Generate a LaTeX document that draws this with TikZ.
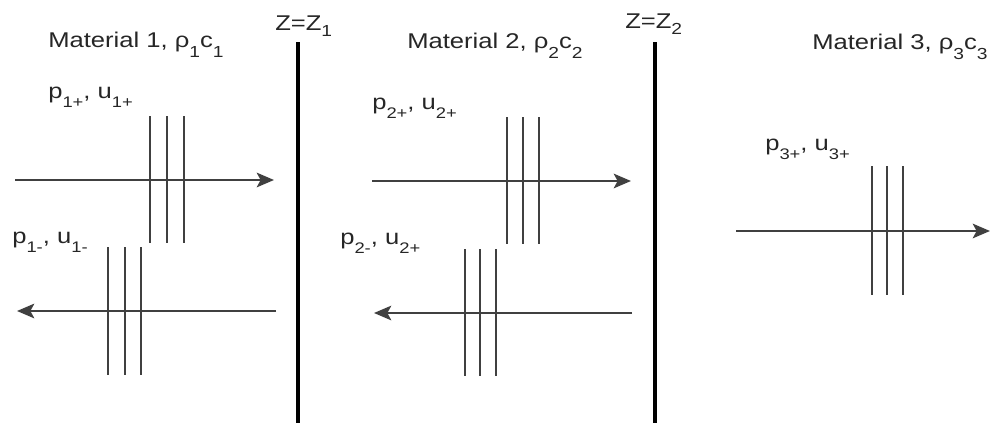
\documentclass[tikz,border=0pt]{standalone}
\usepackage{fontspec}
\setmainfont[FakeStretch=1.2]{Liberation Sans}
\usetikzlibrary{arrows.meta}
\tikzset{
  lbl/.style={anchor=base west, inner sep=0pt, font=\fontsize{16}{18}\selectfont, text=black!85},
  iface/.style={line width=3pt, black},
  wave/.style={line width=1.3pt, black!75, -{Stealth[length=13pt,width=11pt,inset=3pt]}},
  front/.style={line width=1.3pt, black!75}
}
\newcommand{\subm}[1]{\raisebox{-7.5pt}{\fontsize{12}{13}\selectfont #1}}
\newcommand{\subz}[1]{\raisebox{-4.5pt}{\fontsize{12}{13}\selectfont #1}}
\newcommand{\subp}[1]{\raisebox{-7pt}{\fontsize{11.5}{12}\selectfont #1}}
\begin{document}
\begin{tikzpicture}[x=0.75pt,y=-0.75pt]
\useasboundingbox (0,0) rectangle (990,425);
% interfaces
\coordinate (i1t) at (298,42); \coordinate (i1b) at (298,423);
\coordinate (i2t) at (655,42); \coordinate (i2b) at (655,423);
\draw[iface] (i1t) -- (i1b);
\draw[iface] (i2t) -- (i2b);
% labels
\node[lbl] (z1) at (275,30) {Z=Z\subz{1}};
\node[lbl] (z2) at (625,28) {Z=Z\subz{2}};
\node[lbl] (m1) at (48,47) {Material 1, ρ\subm{1}c\subm{1}};
\node[lbl] (m2) at (407,48) {Material 2, ρ\subm{2}c\subm{2}};
\node[lbl] (m3) at (812,49) {Material 3, ρ\subm{3}c\subm{3}};
\node[lbl] (p1p) at (48,98) {p\subp{1+}, u\subp{1+}};
\node[lbl] (p2p) at (372,109) {p\subp{2+}, u\subp{2+}};
\node[lbl] (p3p) at (765,150) {p\subp{3+}, u\subp{3+}};
\node[lbl] (p1m) at (12,243) {p\subp{1-}, u\subp{1-}};
\node[lbl] (p2m) at (340,244) {p\subp{2-}, u\subp{2+}};
% wave arrows
\coordinate (a1s) at (15,180);  \coordinate (a1e) at (274,180);
\coordinate (b1s) at (276,311); \coordinate (b1e) at (17,311);
\coordinate (a2s) at (372,181); \coordinate (a2e) at (631,181);
\coordinate (b2s) at (632,313); \coordinate (b2e) at (374,313);
\coordinate (a3s) at (736,231); \coordinate (a3e) at (990,231);
\draw[wave] (a1s) -- (a1e);
\draw[wave] (b1s) -- (b1e);
\draw[wave] (a2s) -- (a2e);
\draw[wave] (b2s) -- (b2e);
\draw[wave] (a3s) -- (a3e);
% wave fronts
\foreach \x in {150,167,184} \draw[front] (\x,116) -- (\x,243);
\foreach \x in {108,125,141} \draw[front] (\x,247) -- (\x,375);
\foreach \x in {507,523,539} \draw[front] (\x,117) -- (\x,244);
\foreach \x in {465,480,496} \draw[front] (\x,249) -- (\x,376);
\foreach \x in {872,887,903} \draw[front] (\x,166) -- (\x,295);
\end{tikzpicture}
\end{document}
